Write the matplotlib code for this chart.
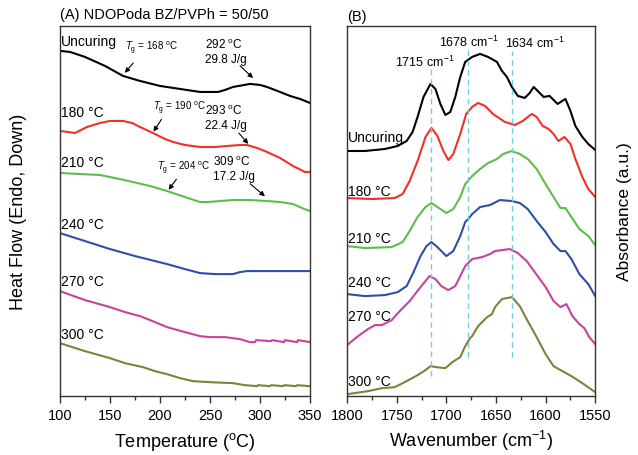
import matplotlib
matplotlib.use('Agg')
import matplotlib.pyplot as plt

plt.rcParams['font.family'] = ['Liberation Sans', 'DejaVu Sans']
plt.rcParams['mathtext.fontset'] = 'custom'
plt.rcParams['mathtext.rm'] = 'Liberation Sans'
plt.rcParams['mathtext.it'] = 'Liberation Sans:italic'

# ---- (A) DSC data: temperature (°C) vs heat flow (a.u.) ----
t_unc = [100, 110, 125, 145, 163, 180, 200, 220, 240, 258, 265, 273, 290, 300, 307, 320, 330, 340, 350]
hf_unc = [345, 344, 339, 330, 320, 315, 310, 307, 304, 304, 306, 309, 312, 311, 309, 304, 300, 297, 293]

t_180 = [100, 108, 115, 121, 127, 140, 150, 163, 172, 180, 193, 205, 213, 225, 240, 255, 267, 280, 287,
         297, 307, 320, 333, 345, 350]
hf_180 = [265, 264, 263, 266, 269, 273, 275, 275, 273, 269, 263, 257, 254, 251, 249, 249, 250, 251, 251,
          248, 244, 238, 230, 224, 224]

t_210 = [100, 120, 140, 155, 173, 190, 207, 225, 240, 247, 260, 273, 290, 307, 320, 333, 342, 350]
hf_210 = [223, 222, 221, 218, 214, 210, 205, 199, 194, 194, 195, 196, 196, 195, 194, 192, 188, 185]

t_240 = [100, 125, 150, 175, 207, 225, 240, 255, 273, 280, 287, 300, 350]
hf_240 = [163, 155, 147, 140, 132, 127, 123, 122, 122, 124, 125, 125, 125]

t_270 = [100, 125, 150, 165, 180, 195, 207, 225, 240, 250, 265, 280, 290, 295, 296, 311, 312, 324, 325,
         337, 338, 350]
hf_270 = [105, 96, 89, 84, 80, 74, 69, 64, 60, 59, 59, 57, 54, 54, 56, 55, 56, 54, 56, 54, 56, 54]

t_300 = [100, 125, 150, 165, 183, 195, 207, 220, 233, 250, 273, 285, 297, 298, 310, 311, 323, 324, 336,
         337, 350]
hf_300 = [53, 45, 38, 33, 29, 25, 22, 18, 15, 14, 13, 11, 10, 11, 10, 11, 10, 11, 10, 11, 10]

# ---- (B) FTIR data: wavenumber (cm-1) vs absorbance (a.u.) ----
w_unc = [1800, 1782, 1762, 1749, 1740, 1734, 1729, 1723, 1716, 1711, 1706, 1701, 1696, 1691, 1686, 1681,
         1674, 1666, 1658, 1649, 1644, 1639, 1634, 1628, 1621, 1616, 1612, 1607, 1602, 1596, 1588, 1580,
         1575, 1570, 1563, 1557, 1550]
a_unc = [245, 245, 247, 250, 255, 264, 279, 299, 312, 307, 292, 281, 284, 299, 319, 334,
         339, 342, 339, 334, 325, 319, 309, 300, 298, 303, 309, 304, 299, 300, 292, 297,
         285, 270, 259, 252, 246]

w_180 = [1800, 1775, 1752, 1744, 1737, 1729, 1721, 1715, 1709, 1703, 1698, 1693, 1686, 1680, 1674, 1668,
         1661, 1653, 1641, 1631, 1623, 1614, 1609, 1603, 1597, 1592, 1587, 1581, 1575, 1570, 1563, 1557, 1550]
a_180 = [198, 197, 198, 202, 215, 235, 259, 268, 260, 245, 236, 242, 262, 282, 289, 293,
         290, 282, 274, 271, 275, 282, 279, 270, 267, 262, 255, 259, 252, 237, 219, 207, 199]

w_210 = [1800, 1782, 1755, 1744, 1737, 1729, 1721, 1715, 1706, 1700, 1693, 1686, 1681, 1674, 1666, 1658,
         1649, 1643, 1634, 1626, 1618, 1609, 1600, 1592, 1585, 1580, 1574, 1566, 1557, 1550]
a_210 = [150, 148, 149, 154, 165, 179, 189, 193, 187, 183, 187, 199, 212, 220, 227, 233,
         237, 242, 245, 242, 237, 227, 212, 199, 188, 188, 179, 167, 160, 151]

w_240 = [1800, 1782, 1762, 1749, 1740, 1733, 1726, 1720, 1715, 1709, 1700, 1693, 1686, 1681, 1678, 1674,
         1666, 1656, 1646, 1634, 1626, 1618, 1609, 1600, 1592, 1585, 1580, 1574, 1566, 1557, 1550]
a_240 = [102, 100, 101, 104, 110, 124, 140, 150, 154, 149, 140, 145, 160, 174, 177, 182,
         189, 191, 196, 195, 193, 187, 175, 164, 152, 145, 145, 137, 122, 112, 100]

w_270 = [1800, 1789, 1779, 1772, 1765, 1755, 1747, 1737, 1726, 1717, 1711, 1705, 1698, 1691, 1685, 1681,
         1677, 1674, 1664, 1656, 1651, 1644, 1636, 1628, 1619, 1611, 1600, 1592, 1585, 1579, 1573, 1566,
         1561, 1556, 1550]
a_270 = [51, 60, 67, 71, 71, 76, 85, 95, 109, 120, 117, 110, 106, 110, 122, 130,
         134, 137, 139, 142, 145, 146, 147, 143, 135, 124, 109, 95, 89, 92, 80, 72,
         68, 59, 52]

w_300 = [1800, 1779, 1765, 1752, 1742, 1729, 1721, 1716, 1710, 1701, 1694, 1686, 1681, 1676, 1674, 1668,
         1659, 1654, 1651, 1644, 1634, 1626, 1618, 1609, 1600, 1592, 1583, 1574, 1563, 1550]
a_300 = [2, 5, 8, 9, 14, 21, 26, 30, 29, 28, 34, 39, 50, 58, 60, 70,
         79, 82, 89, 97, 99, 90, 75, 59, 42, 30, 25, 20, 13, 4]

labels = ['Uncuring', '180 \u00b0C', '210 \u00b0C', '240 \u00b0C', '270 \u00b0C', '300 \u00b0C']
colors = ['#000000', '#f0302a', '#5cbf4a', '#2d4fa8', '#c8419f', '#80813a']
peaks = [1715, 1678, 1634]

dsc = [(t_unc, hf_unc), (t_180, hf_180), (t_210, hf_210), (t_240, hf_240), (t_270, hf_270), (t_300, hf_300)]
ftir = [(w_unc, a_unc), (w_180, a_180), (w_210, a_210), (w_240, a_240), (w_270, a_270), (w_300, a_300)]

fig = plt.figure(figsize=(6.38, 4.56), dpi=100)
ax1 = fig.add_axes([0.094, 0.129, 0.392, 0.812])
ax2 = fig.add_axes([0.544, 0.129, 0.389, 0.812])

for (x, y), c in zip(dsc, colors):
    ax1.plot(x, y, color=c, lw=1.5, solid_joinstyle='round')
for (x, y), c in zip(ftir, colors):
    ax2.plot(x, y, color=c, lw=1.5, solid_joinstyle='round')

# curve labels
dsc_lab_y = [355, 284, 234, 172, 115, 62]
for lab, yy in zip(labels, dsc_lab_y):
    ax1.text(101, yy, lab, fontsize=10, va='center', ha='left')
ftir_lab_y = [259, 205, 158, 114, 80, 15]
for lab, yy in zip(labels, ftir_lab_y):
    ax2.text(1799, yy, lab, fontsize=10, va='center', ha='left')

# DSC annotations
arw = dict(arrowstyle='-|>', color='k', lw=0.8, mutation_scale=7)
ax1.text(165, 349, r'$T_{\rm g}$ = 168 $^{\rm o}$C', fontsize=7, va='center')
ax1.annotate('', xy=(163, 321), xytext=(175, 335), arrowprops=arw)
ax1.text(245, 359, '292 $^{\\rm o}$C\n29.8 J/g', fontsize=8.5, va='top', linespacing=1.3)
ax1.annotate('', xy=(295, 316), xytext=(278, 332), arrowprops=arw)

ax1.text(193, 289, r'$T_{\rm g}$ = 190 $^{\rm o}$C', fontsize=7, va='center')
ax1.annotate('', xy=(192, 262), xytext=(203, 279), arrowprops=arw)
ax1.text(245, 293, '293 $^{\\rm o}$C\n22.4 J/g', fontsize=8.5, va='top', linespacing=1.3)
ax1.annotate('', xy=(290, 250), xytext=(277, 265), arrowprops=arw)

ax1.text(197, 229, r'$T_{\rm g}$ = 204 $^{\rm o}$C', fontsize=7, va='center')
ax1.annotate('', xy=(207, 204), xytext=(218, 219), arrowprops=arw)
ax1.text(253, 242, '309 $^{\\rm o}$C\n17.2 J/g', fontsize=8.5, va='top', linespacing=1.3)
ax1.annotate('', xy=(307, 198), xytext=(288, 214), arrowprops=arw)

# FTIR peak markers
peak_top = [332, 347, 345]
peak_bot = [20, 39, 39]
for p, t, b in zip(peaks, peak_top, peak_bot):
    ax2.vlines(p, b, t, colors='#70cde3', linestyles=(0, (4, 3)), lw=1.0)
ax2.text(1722, 335, '1715 cm$^{-1}$', fontsize=9, ha='center', va='center')
ax2.text(1677, 355, '1678 cm$^{-1}$', fontsize=9, ha='center', va='center')
ax2.text(1611, 354, '1634 cm$^{-1}$', fontsize=9, ha='center', va='center')

# axes styling
ax1.set_xlim(100, 350)
ax1.set_ylim(0, 370)
ax1.set_xticks([100, 150, 200, 250, 300, 350])
ax1.set_xticks([125, 175, 225, 275, 325], minor=True)
ax1.set_yticks([])
ax1.set_xlabel('Temperature ($^{\\rm o}$C)', fontsize=13, labelpad=6)
ax1.set_ylabel('Heat Flow (Endo, Down)', fontsize=13, labelpad=24)
ax1.text(0.0, 1.032, '(A) NDOPoda BZ/PVPh = 50/50', transform=ax1.transAxes, fontsize=10.5, va='center')

ax2.set_xlim(1800, 1550)
ax2.set_ylim(0, 370)
ax2.set_xticks([1800, 1750, 1700, 1650, 1600, 1550])
ax2.set_xticks([1775, 1725, 1675, 1625, 1575], minor=True)
ax2.set_yticks([])
ax2.yaxis.set_label_position('right')
ax2.set_xlabel('Wavenumber (cm$^{-1}$)', fontsize=13, labelpad=4)
ax2.set_ylabel('Absorbance (a.u.)', fontsize=12.5, labelpad=16)
ax2.text(0.0, 1.027, '(B)', transform=ax2.transAxes, fontsize=10.5, va='center')

for ax in (ax1, ax2):
    for s in ax.spines.values():
        s.set_color('#333333')
        s.set_linewidth(1.0)
    ax.tick_params(axis='x', which='major', direction='out', length=5, width=1.0, labelsize=10.5,
                   colors='#333333', labelcolor='black')
    ax.tick_params(axis='x', which='minor', direction='out', length=3, width=1.0, colors='#333333')

fig.savefig('out.png', dpi=100)
